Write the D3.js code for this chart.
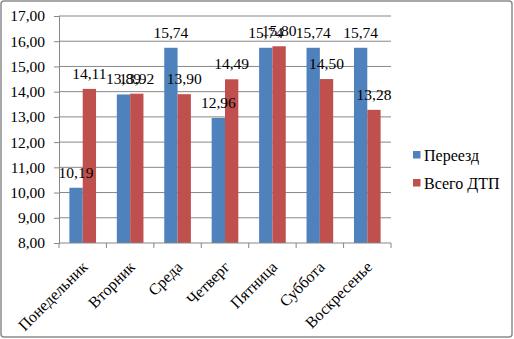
<!DOCTYPE html>
<html>
<head>
<meta charset="utf-8">
<script src="https://cdn.jsdelivr.net/npm/d3@7"></script>
</head>
<body style="margin:0">
<svg id="chart" width="514" height="339"></svg>
<script>
// data
const days = ['Понедельник', 'Вторник', 'Среда', 'Четверг', 'Пятница', 'Суббота', 'Воскресенье'];
const seriesNames = ['Переезд', 'Всего ДТП'];
const pereezd = [10.19, 13.89, 15.74, 12.96, 15.74, 15.74, 15.74];
const vsegoDtp = [14.11, 13.92, 13.90, 14.49, 15.80, 14.50, 13.28];
const yTicks = [8, 9, 10, 11, 12, 13, 14, 15, 16, 17];
const colors = ['#4F81BD', '#C0504D'];

const FONT = 'Liberation Serif';
const svg = d3.select('#chart');
const fmt = v => v.toFixed(2).replace('.', ',');

// outer frame
svg.append('rect')
  .attr('x', 1).attr('y', 1)
  .attr('width', 511).attr('height', 336)
  .attr('rx', 3)
  .attr('fill', '#fff')
  .attr('stroke', '#8c8c8c')
  .attr('stroke-width', 1.5);

const plot = { left: 59, right: 391, top: 16, bottom: 243 };

const y = d3.scaleLinear().domain([8, 17]).range([plot.bottom, plot.top]);
const x0 = d3.scaleBand().domain(days).range([plot.left, plot.right]).padding(0);
const x1 = d3.scaleBand().domain(seriesNames).range([0, x0.bandwidth()])
  .paddingInner(0).paddingOuter(0.78);

// gridlines
svg.append('g')
  .selectAll('line')
  .data(yTicks.slice(1))
  .enter().append('line')
  .attr('x1', plot.left).attr('x2', plot.right)
  .attr('y1', d => y(d)).attr('y2', d => y(d))
  .attr('stroke', '#878787').attr('stroke-width', 1);

// y axis
const yAxis = svg.append('g')
  .attr('transform', 'translate(' + plot.left + ',0)')
  .call(d3.axisLeft(y).tickValues(yTicks).tickSize(5).tickPadding(9).tickFormat(fmt));
yAxis.select('.domain').attr('stroke', '#878787');
yAxis.selectAll('.tick line').attr('stroke', '#878787');
yAxis.selectAll('text')
  .attr('font-family', FONT)
  .attr('font-size', 15.5)
  .attr('fill', '#000');

// bars
const series = [pereezd, vsegoDtp];
const rows = seriesNames.map((name, si) =>
  days.map((day, di) => ({ day, name, si, value: series[si][di] })));

svg.append('g')
  .selectAll('g')
  .data(rows)
  .enter().append('g')
  .attr('fill', (d, i) => colors[i])
  .selectAll('rect')
  .data(d => d)
  .enter().append('rect')
  .attr('x', d => x0(d.day) + x1(d.name))
  .attr('y', d => y(d.value))
  .attr('width', x1.bandwidth())
  .attr('height', d => plot.bottom - y(d.value));

// data labels, on top of all bars
svg.append('g')
  .selectAll('text')
  .data(rows.flat())
  .enter().append('text')
  .attr('x', d => x0(d.day) + x1(d.name) + x1.bandwidth() / 2)
  .attr('y', d => y(d.value) - 10)
  .attr('text-anchor', 'middle')
  .attr('font-family', FONT)
  .attr('font-size', 15.5)
  .attr('fill', '#000')
  .text(d => fmt(d.value));

// x axis
const xAxis = svg.append('g')
  .attr('transform', 'translate(0,' + plot.bottom + ')');
xAxis.append('line')
  .attr('x1', plot.left).attr('x2', plot.right)
  .attr('stroke', '#878787');
const bounds = days.map(d => x0(d)).concat([plot.right]);
xAxis.selectAll('.tk')
  .data(bounds)
  .enter().append('line')
  .attr('x1', d => d).attr('x2', d => d)
  .attr('y1', 0).attr('y2', 5)
  .attr('stroke', '#878787');
xAxis.selectAll('.lbl')
  .data(days)
  .enter().append('text')
  .attr('transform', d => 'translate(' + (x0(d) + x0.bandwidth() / 2 - 2) + ',17) rotate(-45)')
  .attr('text-anchor', 'end')
  .attr('dy', '0.7em')
  .attr('font-family', FONT)
  .attr('font-size', 16)
  .text(d => d);

// legend
const legend = svg.append('g')
  .selectAll('g')
  .data(seriesNames)
  .enter().append('g')
  .attr('transform', (d, i) => 'translate(413,' + (151 + i * 28) + ')');
legend.append('rect')
  .attr('width', 7.5).attr('height', 7.5)
  .attr('fill', (d, i) => colors[i]);
legend.append('text')
  .attr('x', 11).attr('y', 4)
  .attr('dy', '0.35em')
  .attr('font-family', FONT)
  .attr('font-size', 16)
  .text(d => d);
</script>
</body>
</html>
